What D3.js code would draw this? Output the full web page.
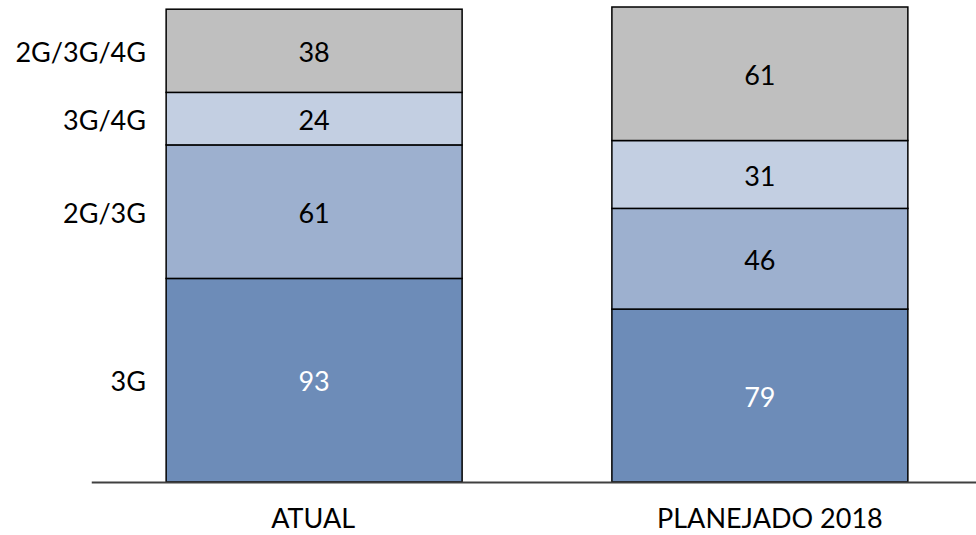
<!DOCTYPE html>
<html>
<head>
<meta charset="utf-8">
<script src="https://cdn.jsdelivr.net/npm/d3@7"></script>
<style>
  body { margin: 0; background: #fff; }
  text { font-family: Lato, "Open Sans", sans-serif; }
</style>
</head>
<body>
<svg id="chart" width="976" height="535"></svg>
<script>
// data
var categories = ["ATUAL", "PLANEJADO 2018"];
var series = ["3G", "2G/3G", "3G/4G", "2G/3G/4G"];
var values3G = [93, 79];
var values2G3G = [61, 46];
var values3G4G = [24, 31];
var values2G3G4G = [38, 61];
var colors = ["#6d8cb8", "#9db0cf", "#c3cfe2", "#bfbfbf"];
var textColors = ["#ffffff", "#000000", "#000000", "#000000"];

var svg = d3.select("#chart");
var fontsize = 27;

var rows = categories.map(function(c, i){
    return {cat: c, "3G": values3G[i], "2G/3G": values2G3G[i],
            "3G/4G": values3G4G[i], "2G/3G/4G": values2G3G4G[i]};
});
var stacked = d3.stack().keys(series)(rows);

var x = d3.scaleBand().domain(categories)
    .range([91.25, 982.75]).paddingInner(0.336).paddingOuter(0.168);
var y = d3.scaleLinear().domain([0, 217]).range([482, 7]);

var layer = svg.selectAll(".layer")
    .data(stacked)
    .enter()
    .append("g")
    .attr("class", "layer");

layer.selectAll("rect")
    .data(function(d){ return d; })
    .enter()
    .append("rect")
    .attr("x", function(d){ return x(d.data.cat); })
    .attr("y", function(d){ return y(d[1]); })
    .attr("width", x.bandwidth())
    .attr("height", function(d){ return y(d[0]) - y(d[1]); })
    .attr("fill", function(d){ return colors[series.indexOf(this.parentNode.__data__.key)]; })
    .attr("stroke", "#000")
    .attr("stroke-width", 1.5);

layer.each(function(s, si){
    d3.select(this).selectAll("text.val")
        .data(s)
        .enter()
        .append("text")
        .attr("class", "val")
        .attr("x", function(d){ return x(d.data.cat) + x.bandwidth() / 2; })
        .attr("y", function(d){ return (y(d[0]) + y(d[1])) / 2 + 1.5; })
        .attr("dy", "0.36em")
        .attr("text-anchor", "middle")
        .attr("font-size", fontsize)
        .attr("fill", textColors[si])
        .text(function(d){ return d[1] - d[0]; });
});

// series names on the left, next to the first bar
svg.selectAll(".serieslabel")
    .data(stacked)
    .enter()
    .append("text")
    .attr("class", "serieslabel")
    .attr("x", 146)
    .attr("y", function(d){ return (y(d[0][0]) + y(d[0][1])) / 2 + 1.5; })
    .attr("dy", "0.36em")
    .attr("text-anchor", "end")
    .attr("font-size", fontsize)
    .attr("fill", "#000")
    .text(function(d){ return d.key; });

var xAxis = svg.append("g")
    .attr("transform", "translate(0," + y(0) + ")")
    .call(d3.axisBottom(x).tickSize(0).tickSizeOuter(0).tickPadding(27));
xAxis.select(".domain").attr("stroke", "#404040").attr("stroke-width", 2);
xAxis.selectAll("text")
    .attr("font-size", fontsize)
    .attr("font-family", "Lato, 'Open Sans', sans-serif")
    .attr("fill", "#000")
    .attr("dx", function(d, i){ return i == 1 ? 10 : -1; });
</script>
</body>
</html>
